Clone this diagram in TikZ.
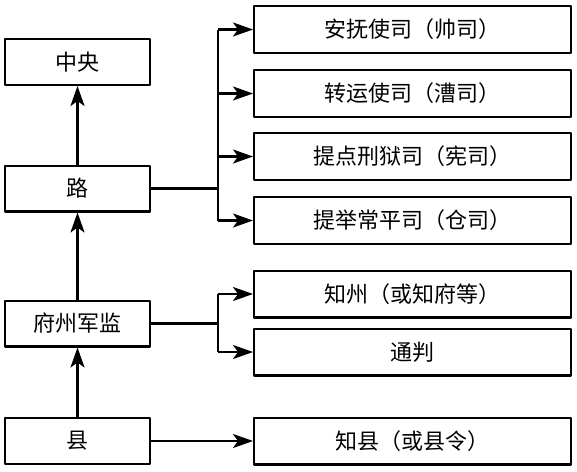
\documentclass[tikz,border=0pt]{standalone}
\usepackage{fontspec}
\setmainfont{Noto Sans CJK SC}
\usetikzlibrary{arrows.meta, positioning}

\begin{document}
\begin{tikzpicture}[x=1pt, y=-1pt, >={Stealth[length=20pt, width=14pt, inset=5pt]},
    line width=2.4pt, line join=round,
    level/.style={draw, minimum width=144.6pt, minimum height=45.6pt, inner sep=0pt,
        font=\fontsize{22}{26}\selectfont},
    office/.style={draw, minimum width=316.6pt, minimum height=46.6pt, inner sep=0pt,
        font=\fontsize{22}{26}\selectfont}]

    \useasboundingbox (0,0) rectangle (577,471);

    % left column
    \node[level] (zhongyang) at (77.5,62) {中央};
    \node[level] (lu) at (77.5,188.5) {路};
    \node[level] (fuzhou) at (77.5,323.5) {府州军监};
    \node[level] (xian) at (77.5,441) {县};

    % right column
    \node[office] (shuaisi) at (412.5,29.5) {安抚使司（帅司）};
    \node[office, below=15pt of shuaisi] (caosi) {转运使司（漕司）};
    \node[office, below=14pt of caosi] (xiansi) {提点刑狱司（宪司）};
    \node[office, below=15pt of xiansi] (cangsi) {提举常平司（仓司）};
    \node[office] (zhizhou) at (412.5,294) {知州（或知府等）};
    \node[office, below=9pt of zhizhou] (tongpan) {通判};
    \node[office] (zhixian) at (412.5,441) {知县（或县令）};

    \coordinate (fork) at (218,0);

    % upward arrows
    \draw[->] (lu) -- (zhongyang);
    \draw[->] (fuzhou) -- (lu);
    \draw[->] (xian) -- (fuzhou);

    % branches
    \draw (lu.east) -- (lu.east -| fork);
    \draw (shuaisi.west -| fork) -- (cangsi.west -| fork);
    \foreach \o in {shuaisi, caosi, xiansi, cangsi}
        \draw[->] (\o.west -| fork) -- (\o.west);

    \draw (fuzhou.east) -- (fuzhou.east -| fork);
    \draw (zhizhou.west -| fork) -- (tongpan.west -| fork);
    \foreach \o in {zhizhou, tongpan}
        \draw[->] (\o.west -| fork) -- (\o.west);

    \draw[->] (xian.east) -- (zhixian.west);
\end{tikzpicture}
\end{document}
